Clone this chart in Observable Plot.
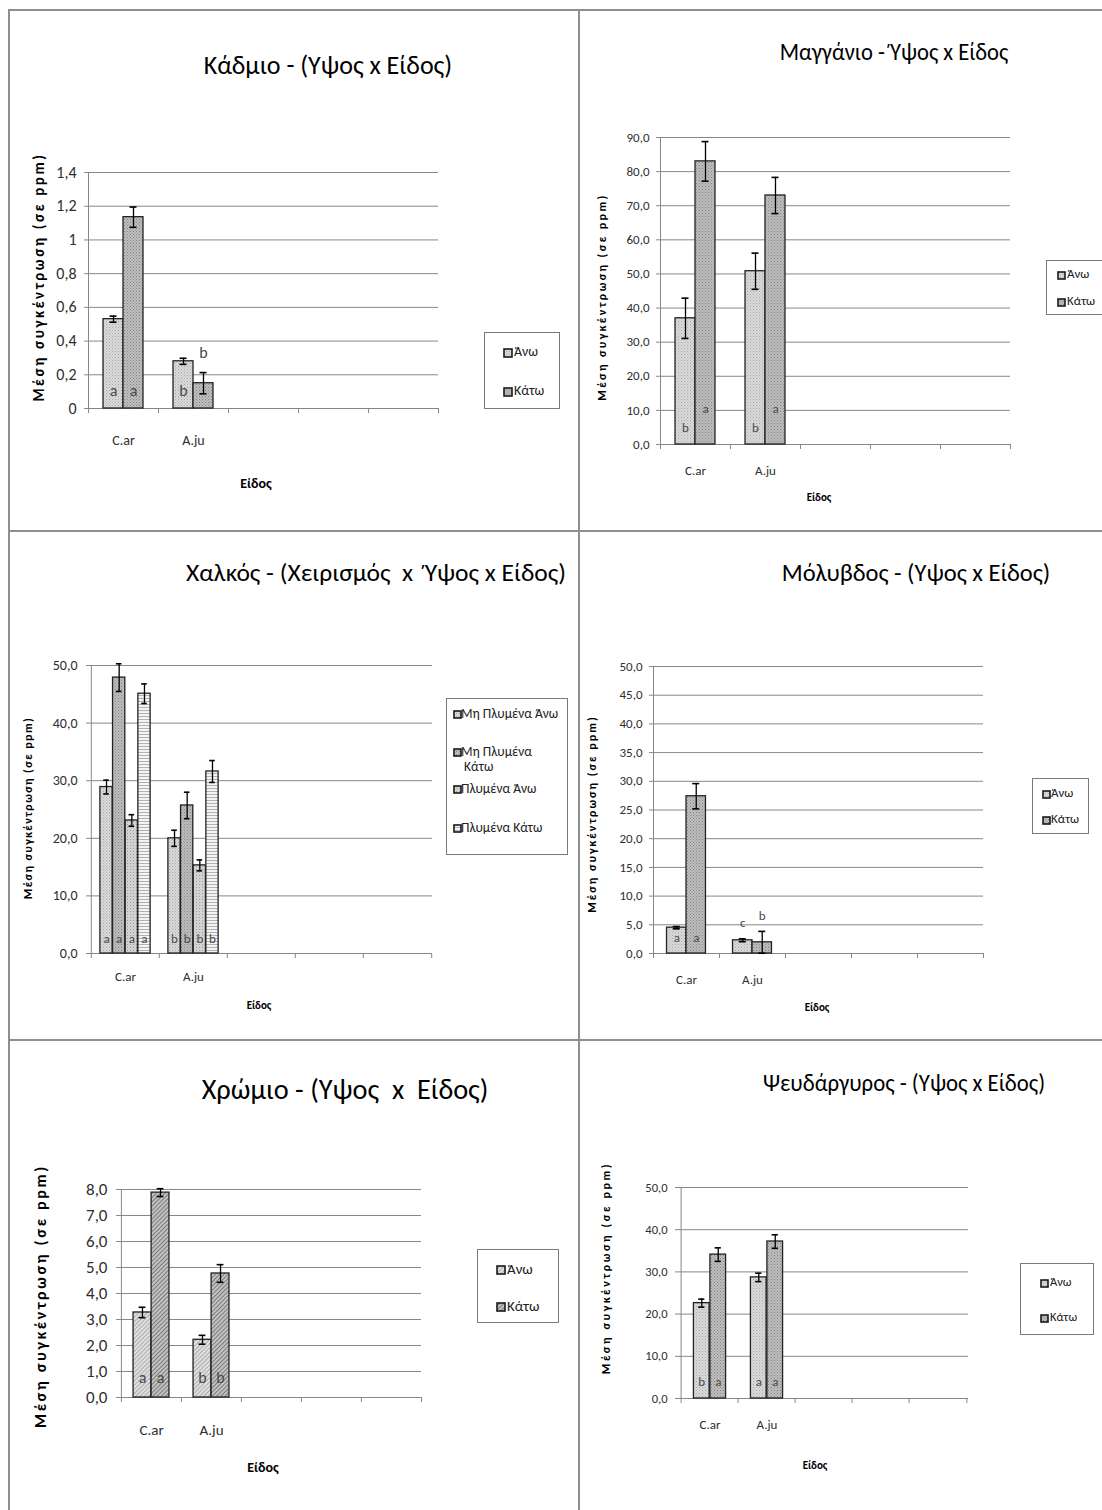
<!DOCTYPE html>
<html><head><meta charset="utf-8">
<script src="https://cdn.jsdelivr.net/npm/d3@7"></script>
<script src="https://cdn.jsdelivr.net/npm/@observablehq/plot@0.6"></script>
<style>
body{margin:0;background:#fff;}
#page{position:relative;width:1102px;height:1510px;overflow:hidden;font-family:Carlito,"Open Sans",Lato,sans-serif;color:#000;}
.ln{position:absolute;background:#8f8f8f;}
.title,.lab{position:absolute;white-space:pre;line-height:1;}
.ylab{position:absolute;white-space:pre;font-weight:bold;line-height:1;}
.lab{font-weight:bold;}
.plotbox{position:absolute;}
.legend{position:absolute;border:1px solid #7a7a7a;background:#fff;box-sizing:border-box;}
.li{position:absolute;white-space:pre;line-height:1.15;color:#222;}
.sw{position:absolute;}
</style></head>
<body>
<svg width="0" height="0" style="position:absolute">
<defs>
<pattern id="dotLight" width="3" height="3" patternUnits="userSpaceOnUse">
<rect width="3" height="3" fill="#d9d9d9"/><rect width="1" height="1" fill="#a9a9a9"/><rect x="1.5" y="1.5" width="1" height="1" fill="#bcbcbc"/></pattern>
<pattern id="dotDark" width="3" height="3" patternUnits="userSpaceOnUse">
<rect width="3" height="3" fill="#bdbdbd"/><rect width="1" height="1" fill="#858585"/><rect x="1.5" y="1.5" width="1" height="1" fill="#959595"/></pattern>
<pattern id="dotMid" width="3" height="3" patternUnits="userSpaceOnUse">
<rect width="3" height="3" fill="#d2d2d2"/><rect width="1" height="1" fill="#9d9d9d"/></pattern>
<pattern id="hatchLight" width="3" height="3" patternUnits="userSpaceOnUse" patternTransform="rotate(45)">
<rect width="3" height="3" fill="#e0e0e0"/><rect width="1" height="3" fill="#acacac"/></pattern>
<pattern id="hatchDark" width="3" height="3" patternUnits="userSpaceOnUse" patternTransform="rotate(45)">
<rect width="3" height="3" fill="#c2c2c2"/><rect width="1" height="3" fill="#7a7a7a"/></pattern>
<pattern id="hStripe" width="4" height="3" patternUnits="userSpaceOnUse">
<rect width="4" height="3" fill="#f4f4f4"/><rect width="4" height="1" fill="#b2b2b2"/></pattern>
</defs></svg>
<div id="page"></div>
<script>
// ---------- data ----------
const species = ["C.ar", "A.ju"];
const slots = ["C.ar", "A.ju", "—3", "—4", "—5"];
const heightNames = ["Άνω", "Κάτω"];
const cuNames = ["Μη Πλυμένα Άνω", "Μη Πλυμένα Κάτω", "Πλυμένα Άνω", "Πλυμένα Κάτω"];
const yLabel = "Μέση συγκέντρωση (σε ppm)";
const xLabel = "Είδος";
const titles = [
  "Κάδμιο - (Υψος x Είδος)",
  "Μαγγάνιο - Ύψος x Είδος",
  "Χαλκός - (Χειρισμός  x  Ύψος x Είδος)",
  "Μόλυβδος - (Υψος x Είδος)",
  "Χρώμιο - (Υψος  x  Είδος)",
  "Ψευδάργυρος - (Υψος x Είδος)"
];

// Κάδμιο
const cdUpper = [0.53, 0.28], cdUpperErr = [0.018, 0.018], cdUpperLet = ["a", "b"], cdUpperAbove = [false, false];
const cdLower = [1.135, 0.15], cdLowerErr = [0.06, 0.063], cdLowerLet = ["a", "b"], cdLowerAbove = [false, true];
// Μαγγάνιο
const mnUpper = [37.0, 50.8], mnUpperErr = [5.9, 5.3], mnUpperLet = ["b", "b"], mnUpperAbove = [false, false];
const mnLower = [83.0, 73.0], mnLowerErr = [5.8, 5.3], mnLowerLet = ["a", "a"], mnLowerAbove = [false, false];
// Χαλκός
const cuUnwUpper = [28.9, 20.0], cuUnwUpperErr = [1.2, 1.4];
const cuUnwLower = [47.9, 25.7], cuUnwLowerErr = [2.4, 2.3];
const cuWUpper = [23.1, 15.3], cuWUpperErr = [1.0, 0.95];
const cuWLower = [45.1, 31.6], cuWLowerErr = [1.7, 1.9];
const cuLet = ["a", "b"], cuAbove = [false, false];
// Μόλυβδος
const pbUpper = [4.5, 2.3], pbUpperErr = [0.2, 0.25], pbUpperLet = ["a", "c"], pbUpperAbove = [false, true];
const pbLower = [27.4, 1.95], pbLowerErr = [2.2, 1.9], pbLowerLet = ["a", "b"], pbLowerAbove = [false, true];
// Χρώμιο
const crUpper = [3.27, 2.22], crUpperErr = [0.2, 0.17], crUpperLet = ["a", "b"], crUpperAbove = [false, false];
const crLower = [7.88, 4.77], crLowerErr = [0.15, 0.34], crLowerLet = ["a", "b"], crLowerAbove = [false, false];
// Ψευδάργυρος
const znUpper = [22.6, 28.7], znUpperErr = [0.95, 1.0], znUpperLet = ["b", "a"], znUpperAbove = [false, false];
const znLower = [34.1, 37.2], znLowerErr = [1.6, 1.6], znLowerLet = ["a", "a"], znLowerAbove = [false, false];

// ---------- helpers ----------
const fmt1 = d => d.toFixed(1).replace(".", ",");
const fmtG = d => String(+d.toFixed(1)).replace(".", ",");
const page = document.getElementById("page");
const FONT = 'Carlito,"Open Sans",Lato,sans-serif';
function el(cls, css, html) {
  const e = document.createElement("div");
  e.className = cls;
  Object.assign(e.style, css);
  if (html !== undefined) e.innerHTML = html;
  page.appendChild(e);
  return e;
}
function ser(name, values, errs, letters, above, fill, letterDy) {
  return {name, values, errs, letters, above, fill, letterDy};
}

// panel borders
el("ln", {left: "8px", top: "9px", width: "1094px", height: "2px"});
el("ln", {left: "8px", top: "9px", width: "2px", height: "1501px"});
el("ln", {left: "578px", top: "9px", width: "2px", height: "1501px"});
el("ln", {left: "8px", top: "530px", width: "1094px", height: "2px"});
el("ln", {left: "8px", top: "1039px", width: "1094px", height: "2px"});

function panel(cfg) {
  const [L, T, W, H] = cfg.box;
  const [x0, x1, yT, yB] = cfg.plot;
  const B = (x1 - x0) / slots.length;
  const n = cfg.series.length;
  const G = B * cfg.ratio, w = G / n;
  const cap = cfg.cap || 7;
  const ticks = d3.range(0, cfg.ymax + cfg.ystep / 2, cfg.ystep);
  const grid = "#878787";
  const marks = [
    Plot.gridY(ticks, {stroke: grid, strokeOpacity: 1}),
    Plot.axisY({ticks, tickFormat: cfg.yfmt, tickSize: 4, tickPadding: cfg.tickPad, fontSize: cfg.tickFont, stroke: grid, fill: "#2e2e2e", label: null}),
    Plot.axisX({tickSize: 0, tickPadding: cfg.catPad, tickFormat: d => species.includes(d) ? d : "", fontSize: cfg.catFont, fill: "#2e2e2e", label: null}),
    Plot.ruleX([slots[0]], {x: d => d, dx: -B / 2, stroke: grid}),
    Plot.ruleX(slots, {x: d => d, y1: 0, y2: 0, insetBottom: -5, dx: -B / 2, stroke: grid}),
    Plot.ruleX([slots[slots.length - 1]], {x: d => d, y1: 0, y2: 0, insetBottom: -5, dx: B / 2, stroke: grid}),
    Plot.ruleY([0], {stroke: grid})
  ];
  const overlays = [];
  cfg.series.forEach((s, i) => {
    const data = species.map((c, j) => ({cat: c, v: s.values[j], e: s.errs[j], letter: s.letters[j], above: s.above[j]}));
    const off = -G / 2 + (i + 0.5) * w;
    marks.push(Plot.barY(data, {x: "cat", y: "v", fill: s.fill, stroke: "#222", strokeWidth: 1.3,
      insetLeft: B / 2 + off - w / 2, insetRight: B / 2 - off - w / 2}));
    overlays.push(
      Plot.ruleX(data, {x: "cat", y1: d => d.v - d.e, y2: d => d.v + d.e, dx: off, stroke: "#000", strokeWidth: 1.3}),
      Plot.tickY(data, {x: "cat", y: d => d.v + d.e, insetLeft: B / 2 + off - cap / 2, insetRight: B / 2 - off - cap / 2, stroke: "#000", strokeWidth: 1.6}),
      Plot.tickY(data, {x: "cat", y: d => d.v - d.e, insetLeft: B / 2 + off - cap / 2, insetRight: B / 2 - off - cap / 2, stroke: "#000", strokeWidth: 1.6}),
      Plot.text(data.filter(d => !d.above), {x: "cat", y: 0, text: "letter", dx: off, dy: -s.letterDy, fontSize: cfg.letFont, fill: "#4a4a4a"}),
      Plot.text(data.filter(d => d.above), {x: "cat", y: d => d.v + d.e, text: "letter", dx: off, dy: -cfg.aboveDy, fontSize: cfg.letFont, fill: "#4a4a4a"})
    );
  });
  const chart = Plot.plot({
    width: W, height: H,
    marginLeft: x0 - L, marginRight: L + W - x1, marginTop: yT - T, marginBottom: T + H - yB,
    x: {type: "band", domain: slots, padding: 0},
    y: {domain: [0, cfg.ymax]},
    style: {fontFamily: FONT, background: "transparent", overflow: "visible"},
    marks: [...marks, ...overlays]
  });
  const box = el("plotbox", {left: L + "px", top: T + "px"});
  box.appendChild(chart);

  const [tt, tx, ty, tfs, tsx] = cfg.title;
  el("title", {left: tx + "px", top: ty + "px", fontSize: tfs + "px",
    transform: `translate(-50%,-50%) scaleX(${tsx || 1})`}, tt);
  const [lx, ly, lfs, lls, lsx] = cfg.ylab;
  el("ylab", {left: lx + "px", top: ly + "px", fontSize: lfs + "px", letterSpacing: lls + "px",
    transform: `translate(-50%,-50%) rotate(-90deg) scaleX(${lsx || 1})`}, yLabel);
  el("lab", {left: cfg.xlab[0] + "px", top: cfg.xlab[1] + "px", fontSize: cfg.xlab[2] + "px",
    transform: "translate(-50%,-50%)"}, xLabel);

  const lg = cfg.legend;
  const lgBox = el("legend", {left: lg.box[0] + "px", top: lg.box[1] + "px", width: lg.box[2] + "px", height: lg.box[3] + "px"});
  cfg.series.forEach((s, i) => {
    const it = lg.items[i];
    const sw = document.createElementNS("http://www.w3.org/2000/svg", "svg");
    sw.setAttribute("width", lg.sw + 2); sw.setAttribute("height", lg.sw + 2);
    sw.setAttribute("class", "sw");
    sw.style.left = (lg.swX - lg.box[0]) + "px";
    sw.style.top = (it.y - lg.box[1] - lg.sw / 2 - 1) + "px";
    sw.innerHTML = `<rect x="1" y="1" width="${lg.sw}" height="${lg.sw}" fill="${s.fill}" stroke="#1a1a1a" stroke-width="1.6"/>`;
    lgBox.appendChild(sw);
    const t = document.createElement("div");
    t.className = "li";
    t.style.left = (lg.txtX - lg.box[0]) + "px";
    t.style.top = (it.y - lg.box[1] - lg.font * 0.62) + "px";
    t.style.fontSize = lg.font + "px";
    t.textContent = it.wrap ? s.name.replace(/ (\S+)$/, "\n $1") : s.name;
    lgBox.appendChild(t);
  });
}

// Κάδμιο
panel({
  title: [titles[0], 328, 65, 26],
  box: [10, 12, 566, 516], plot: [88, 438, 172, 408],
  ymax: 1.4, ystep: 0.2, yfmt: fmtG, tickFont: 16, tickPad: 8, catFont: 14, catPad: 27,
  ratio: 0.571, letFont: 16, aboveDy: 20,
  series: [
    ser(heightNames[0], cdUpper, cdUpperErr, cdUpperLet, cdUpperAbove, "url(#dotLight)", 18),
    ser(heightNames[1], cdLower, cdLowerErr, cdLowerLet, cdLowerAbove, "url(#dotDark)", 18)
  ],
  ylab: [39, 277, 15, 2.6], xlab: [256, 484, 14],
  legend: {box: [484, 332, 76, 77], swX: 502, txtX: 513, sw: 8, font: 14, items: [{y: 352}, {y: 391}]}
});
// Μαγγάνιο
panel({
  title: [titles[1], 894, 52, 24, 0.94],
  box: [582, 12, 518, 516], plot: [660, 1010, 137, 444],
  ymax: 90, ystep: 10, yfmt: fmt1, tickFont: 13, tickPad: 7, catFont: 13, catPad: 21,
  ratio: 0.571, letFont: 13, aboveDy: 16,
  series: [
    ser(heightNames[0], mnUpper, mnUpperErr, mnUpperLet, mnUpperAbove, "url(#dotLight)", 17),
    ser(heightNames[1], mnLower, mnLowerErr, mnLowerLet, mnLowerAbove, "url(#dotDark)", 36)
  ],
  ylab: [602, 297, 12, 2.4], xlab: [819, 497, 11],
  legend: {box: [1046, 260, 58, 55], swX: 1056, txtX: 1066, sw: 7, font: 13, items: [{y: 274}, {y: 301}]}
});
// Χαλκός
panel({
  title: [titles[2], 376, 573, 25.5],
  box: [10, 533, 566, 505], plot: [90, 432, 665, 953],
  ymax: 50, ystep: 10, yfmt: fmt1, tickFont: 14, tickPad: 9, catFont: 13, catPad: 18,
  ratio: 0.74, letFont: 13, aboveDy: 16, cap: 6,
  series: [
    ser(cuNames[0], cuUnwUpper, cuUnwUpperErr, cuLet, cuAbove, "url(#dotLight)", 15),
    ser(cuNames[1], cuUnwLower, cuUnwLowerErr, cuLet, cuAbove, "url(#dotDark)", 15),
    ser(cuNames[2], cuWUpper, cuWUpperErr, cuLet, cuAbove, "url(#dotMid)", 15),
    ser(cuNames[3], cuWLower, cuWLowerErr, cuLet, cuAbove, "url(#hStripe)", 15)
  ],
  ylab: [28, 808, 12, 1.4], xlab: [259, 1005, 11],
  legend: {box: [446, 698, 122, 157], swX: 452, txtX: 460, sw: 7, font: 13.5,
    items: [{y: 713}, {y: 751, wrap: true}, {y: 788}, {y: 827}]}
});
// Μόλυβδος
panel({
  title: [titles[3], 916, 573, 24.5],
  box: [582, 533, 518, 505], plot: [653, 983, 666, 953],
  ymax: 50, ystep: 5, yfmt: fmt1, tickFont: 13, tickPad: 7, catFont: 13, catPad: 21,
  ratio: 0.59, letFont: 13, aboveDy: 16,
  series: [
    ser(heightNames[0], pbUpper, pbUpperErr, pbUpperLet, pbUpperAbove, "url(#dotLight)", 16),
    ser(heightNames[1], pbLower, pbLowerErr, pbLowerLet, pbLowerAbove, "url(#dotDark)", 16)
  ],
  ylab: [592, 814, 12, 2], xlab: [817, 1007, 11],
  legend: {box: [1032, 778, 57, 56], swX: 1041, txtX: 1050, sw: 7, font: 13, items: [{y: 793}, {y: 819}]}
});
// Χρώμιο
panel({
  title: [titles[4], 345, 1090, 28.3],
  box: [10, 1042, 566, 466], plot: [120, 421, 1189, 1397],
  ymax: 8, ystep: 1, yfmt: fmt1, tickFont: 17, tickPad: 9, catFont: 15, catPad: 27,
  ratio: 0.6, letFont: 16, aboveDy: 16,
  series: [
    ser(heightNames[0], crUpper, crUpperErr, crUpperLet, crUpperAbove, "url(#hatchLight)", 20),
    ser(heightNames[1], crLower, crLowerErr, crLowerLet, crLowerAbove, "url(#hatchDark)", 20)
  ],
  ylab: [41, 1296, 16, 2.7], xlab: [263, 1468, 14],
  legend: {box: [477, 1249, 82, 74], swX: 495, txtX: 506, sw: 8, font: 15, items: [{y: 1269}, {y: 1306}]}
});
// Ψευδάργυρος
panel({
  title: [titles[5], 904, 1083, 24, 0.95],
  box: [582, 1042, 518, 466], plot: [679, 968, 1187, 1398],
  ymax: 50, ystep: 10, yfmt: fmt1, tickFont: 12.5, tickPad: 8, catFont: 13, catPad: 21,
  ratio: 0.57, letFont: 13, aboveDy: 16,
  series: [
    ser(heightNames[0], znUpper, znUpperErr, znUpperLet, znUpperAbove, "url(#dotLight)", 17),
    ser(heightNames[1], znLower, znLowerErr, znLowerLet, znLowerAbove, "url(#dotDark)", 17)
  ],
  ylab: [606, 1268, 12, 2.6], xlab: [815, 1465, 11],
  legend: {box: [1020, 1263, 74, 72], swX: 1039, txtX: 1049, sw: 7, font: 12.5, items: [{y: 1282}, {y: 1317}]}
});
</script>
</body></html>
